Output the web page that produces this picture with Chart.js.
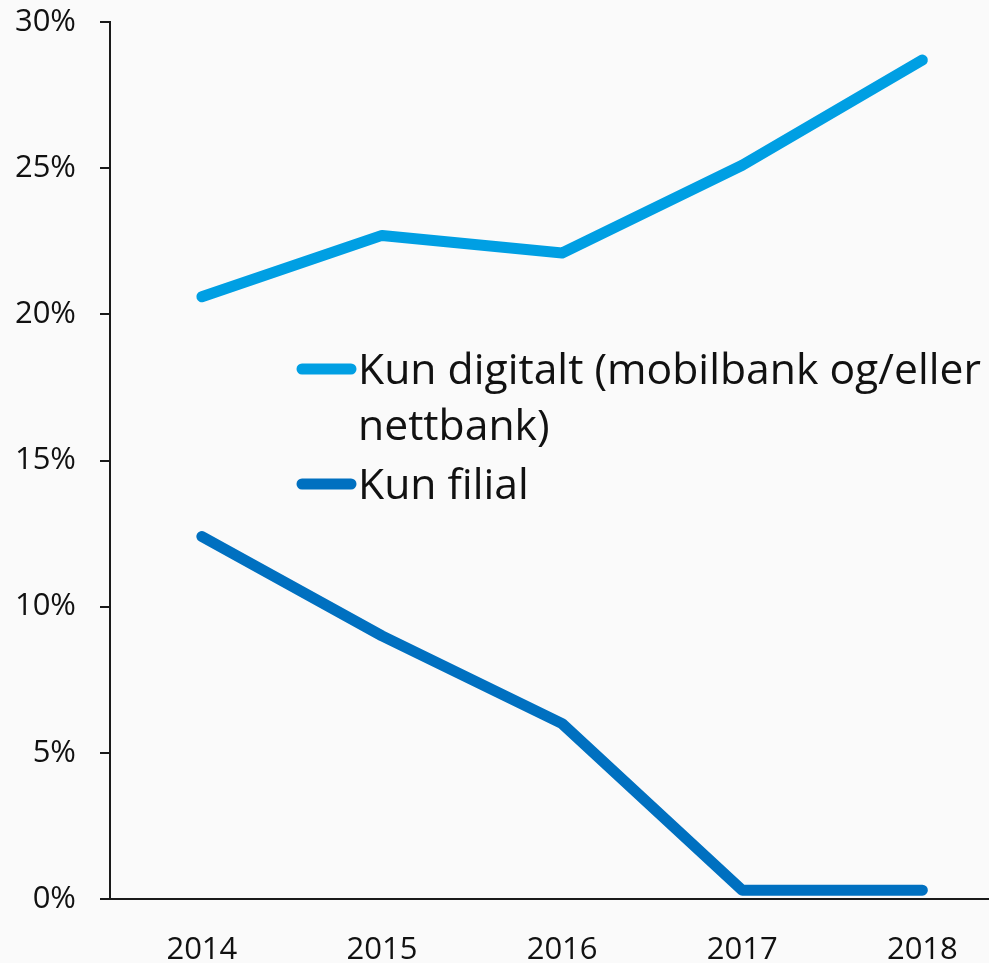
<!DOCTYPE html>
<html>
<head>
<meta charset="utf-8">
<script src="https://cdn.jsdelivr.net/npm/chart.js@4"></script>
<style>
  html, body { margin: 0; padding: 0; background: #fafafa; }
  #wrap { width: 989px; height: 963px; }
</style>
</head>
<body>
<div id="wrap"><canvas id="chart" width="989" height="963"></canvas></div>
<script>
const years = [2014, 2015, 2016, 2017, 2018];
const digitalLabel = "Kun digitalt (mobilbank og/eller nettbank)";
const digitalValues = [20.6, 22.7, 22.1, 25.1, 28.7];
const branchLabel = "Kun filial";
const branchValues = [12.4, 9.0, 6.0, 0.3, 0.3];
const yTicks = [0, 5, 10, 15, 20, 25, 30];

const FONT = "'Open Sans', 'Noto Sans', sans-serif";

// legend drawn inside the plot, wrapped like the original
const insideLegend = {
  id: "insideLegend",
  afterDraw(chart) {
    const ctx = chart.ctx;
    ctx.save();
    ctx.font = "42.7px " + FONT;
    ctx.fillStyle = "#111";
    ctx.textBaseline = "alphabetic";
    const x0 = 297, textX = 358, maxW = 640, lineH = 56;
    let base = 384;
    chart.data.datasets.forEach(ds => {
      const words = ds.label.split(" ");
      const lines = [];
      let cur = "";
      words.forEach(w => {
        const t = cur ? cur + " " + w : w;
        if (ctx.measureText(t).width > maxW && cur) { lines.push(cur); cur = w; }
        else cur = t;
      });
      lines.push(cur);
      ctx.strokeStyle = ds.borderColor;
      ctx.lineWidth = 11;
      ctx.lineCap = "round";
      ctx.beginPath();
      ctx.moveTo(x0 + 5, base - 15);
      ctx.lineTo(textX - 7, base - 15);
      ctx.stroke();
      lines.forEach((l, i) => ctx.fillText(l, textX, base + i * lineH));
      base += lines.length * lineH + 3;
    });
    ctx.restore();
  }
};

new Chart(document.getElementById("chart").getContext("2d"), {
  type: "line",
  data: {
    datasets: [
      {
        label: digitalLabel,
        data: years.map((y, i) => ({ x: y, y: digitalValues[i] })),
        borderColor: "#009fe3",
        borderWidth: 11,
        borderCapStyle: "round",
        borderJoinStyle: "round",
        pointRadius: 0,
        tension: 0
      },
      {
        label: branchLabel,
        data: years.map((y, i) => ({ x: y, y: branchValues[i] })),
        borderColor: "#0070c0",
        borderWidth: 11,
        borderCapStyle: "round",
        borderJoinStyle: "round",
        pointRadius: 0,
        tension: 0
      }
    ]
  },
  options: {
    responsive: false,
    animation: false,
    clip: false,
    layout: { padding: { top: 22, right: 0, left: 0, bottom: 0 } },
    plugins: { legend: { display: false }, tooltip: { enabled: false } },
    scales: {
      x: {
        type: "linear",
        min: 2013.49,
        max: 2018.37,
        afterFit: s => { s.height = 64; s.paddingLeft = 0; s.paddingRight = 0; },
        afterBuildTicks: s => { s.ticks = years.map(v => ({ value: v })); },
        grid: { display: false },
        border: { display: true, color: "#1a1a1a", width: 2 },
        ticks: {
          padding: 25,
          color: "#111",
          font: { family: FONT, size: 31 },
          callback: v => String(v),
          maxRotation: 0
        }
      },
      y: {
        min: 0,
        max: 30,
        afterFit: s => { s.width = 110; s.paddingTop = 0; s.paddingBottom = 0; },
        afterBuildTicks: s => { s.ticks = yTicks.map(v => ({ value: v })); },
        grid: { drawOnChartArea: false, drawTicks: true, tickLength: 10, color: "#1a1a1a", lineWidth: 2 },
        border: { display: true, color: "#1a1a1a", width: 2 },
        ticks: {
          padding: 24,
          color: "#111",
          font: { family: FONT, size: 31 },
          callback: v => v + "%"
        }
      }
    }
  },
  plugins: [insideLegend]
});
</script>
</body>
</html>
